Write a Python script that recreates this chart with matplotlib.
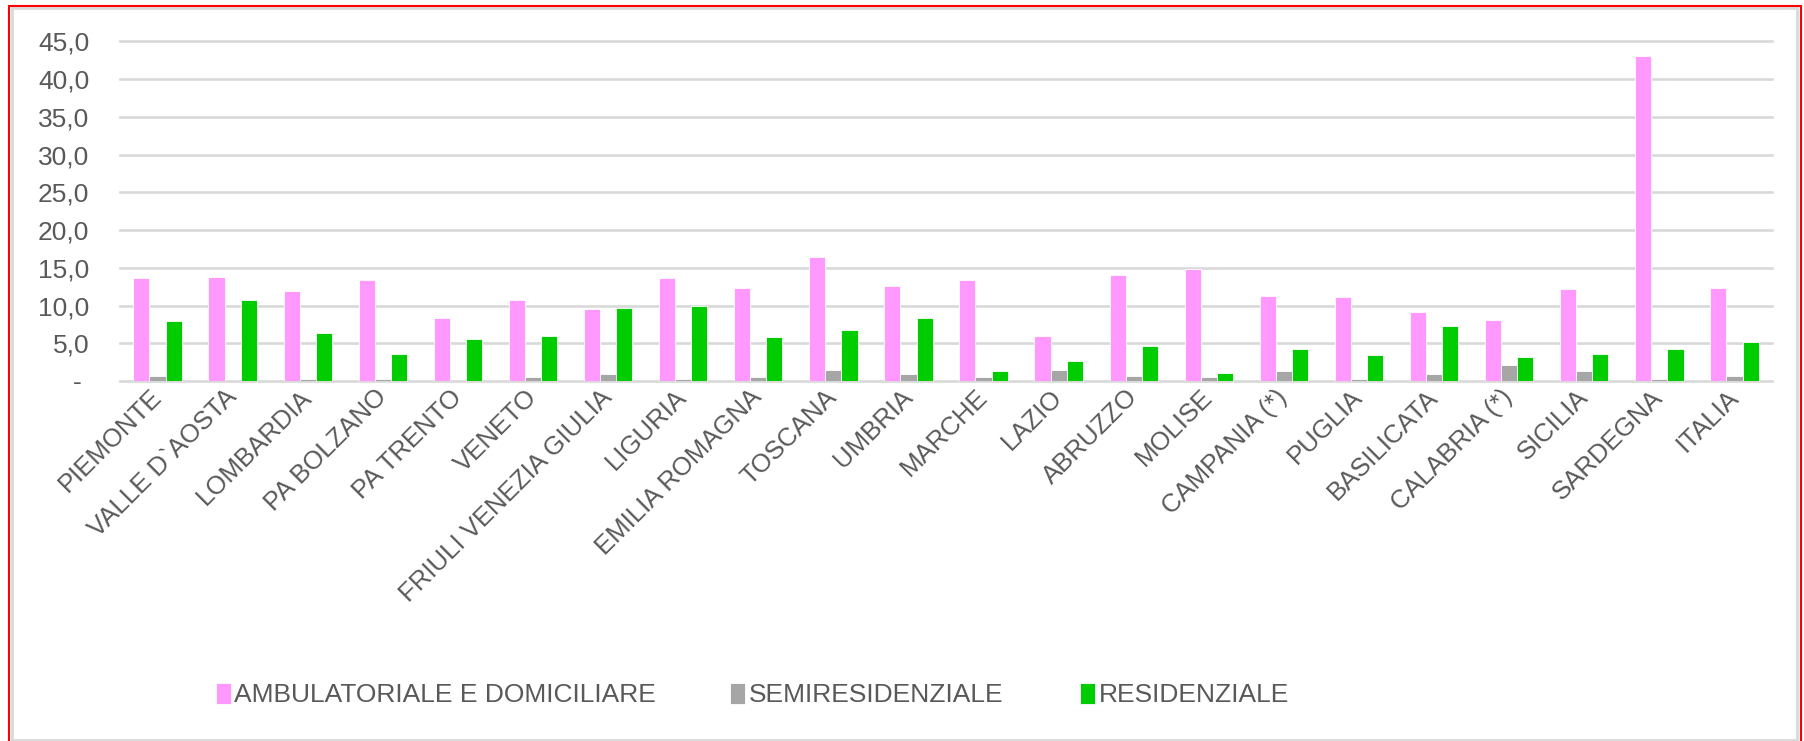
import matplotlib
matplotlib.use("Agg")
import matplotlib.pyplot as plt
import numpy as np
from matplotlib.patches import Rectangle
from matplotlib.ticker import FuncFormatter, MultipleLocator

regioni = ["PIEMONTE", "VALLE D`AOSTA", "LOMBARDIA", "PA BOLZANO", "PA TRENTO",
           "VENETO", "FRIULI VENEZIA GIULIA", "LIGURIA", "EMILIA ROMAGNA",
           "TOSCANA", "UMBRIA", "MARCHE", "LAZIO", "ABRUZZO", "MOLISE",
           "CAMPANIA (*)", "PUGLIA", "BASILICATA", "CALABRIA (*)", "SICILIA",
           "SARDEGNA", "ITALIA"]

ambulatoriale = [13.7, 13.8, 11.9, 13.4, 8.3, 10.7, 9.5, 13.6, 12.3, 16.4, 12.6,
                 13.4, 6.0, 14.0, 14.8, 11.3, 11.1, 9.1, 8.1, 12.2, 43.1, 12.3]
semiresidenziale = [0.7, 0.0, 0.3, 0.3, 0.0, 0.5, 0.9, 0.3, 0.5, 1.5, 0.9,
                    0.5, 1.5, 0.7, 0.5, 1.3, 0.3, 0.9, 2.1, 1.3, 0.3, 0.7]
residenziale = [7.9, 10.7, 6.4, 3.6, 5.6, 6.0, 9.7, 9.9, 5.8, 6.7, 8.3,
                1.3, 2.6, 4.6, 1.1, 4.2, 3.4, 7.3, 3.2, 3.6, 4.2, 5.2]

serie = ["AMBULATORIALE E DOMICILIARE", "SEMIRESIDENZIALE", "RESIDENZIALE"]
colori = ["#ff99ff", "#a6a6a6", "#00cc00"]

plt.rcParams["font.family"] = ["Liberation Sans", "DejaVu Sans"]
testo = "#595959"

W, H = 1804, 741
fig = plt.figure(figsize=(W / 100, H / 100), dpi=100)

# red frame around the chart, with the pale chart border just inside it
fig.patches.append(Rectangle((12 / W, 1 / H), (1797 - 12) / W, (733 - 1) / H,
                             transform=fig.transFigure, fill=False,
                             edgecolor="#d9d9d9", linewidth=2))
fig.patches.append(Rectangle((9 / W, -0.05), (1801 - 9) / W, 735 / H + 0.05,
                             transform=fig.transFigure, fill=False,
                             edgecolor="#ff0000", linewidth=1.5))

ax = fig.add_axes([120 / W, (H - 381) / H, (1772 - 120) / W, (381 - 41.5) / H])

x = np.arange(len(regioni))
w = 0.215
for i, (vals, col, nome) in enumerate(zip([ambulatoriale, semiresidenziale, residenziale],
                                         colori, serie)):
    ax.bar(x + (i - 1) * w, vals, width=w, color=col, edgecolor="white",
           linewidth=0.6, label=nome, zorder=3)

ax.set_xlim(-0.5, len(regioni) - 0.5)
ax.set_ylim(0, 45)
ax.yaxis.set_major_locator(MultipleLocator(5))
ax.yaxis.set_major_formatter(FuncFormatter(
    lambda v, p: "- " if abs(v) < 1e-9 else f"{v:.1f}".replace(".", ",")))
ax.grid(axis="y", color="#d9d9d9", linewidth=1.9, zorder=0)
for gl in ax.get_ygridlines():
    gl.set_clip_on(False)
ax.set_axisbelow(True)
for s in ax.spines.values():
    s.set_visible(False)

ax.set_xticks(x)
ax.set_xticklabels(regioni, rotation=45, ha="right", va="center",
                   rotation_mode="anchor")
ax.tick_params(axis="x", length=0, pad=9, labelsize=18.5, labelcolor=testo)
ax.tick_params(axis="y", length=0, pad=22, labelsize=19, labelcolor=testo)

# one legend per entry so that each sits where its column starts
maniglie, etichette = ax.get_legend_handles_labels()
for h, l, x0 in zip(maniglie, etichette, [216, 730, 1080]):
    fig.legend([h], [l], loc="center left", bbox_to_anchor=(x0 / W, (H - 695) / H),
               frameon=False, fontsize=19, labelcolor=testo, borderpad=0,
               borderaxespad=0, handlelength=0.55, handleheight=0.85,
               handletextpad=0.15)

fig.savefig("out.png", dpi=100)
